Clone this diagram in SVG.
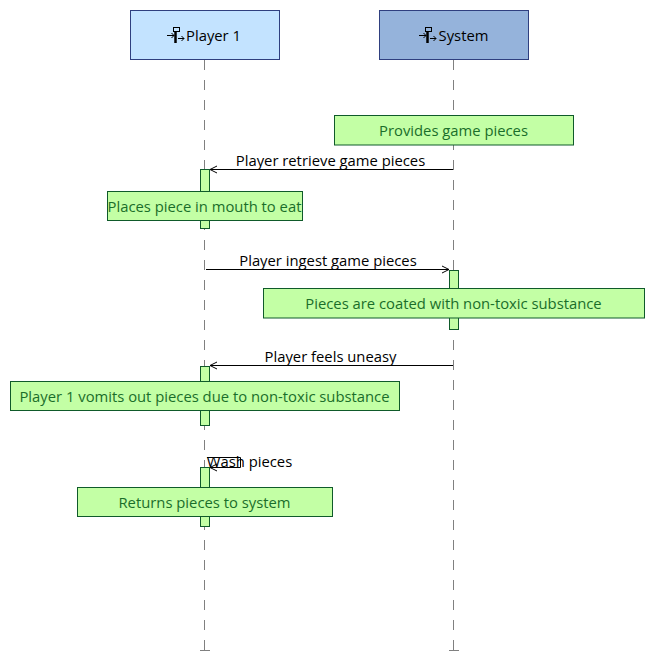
<svg xmlns="http://www.w3.org/2000/svg" width="655" height="668" viewBox="0 0 655 668">
<style>
text{font-family:"Open Sans","Noto Sans","Liberation Sans",sans-serif;font-size:14.8px;text-anchor:middle}
.life{stroke:#808080;stroke-width:1;stroke-dasharray:10 10;fill:none}
.foot{stroke:#808080;stroke-width:1;fill:none}
.head{stroke:#2f3f7f;stroke-width:1}
.act,.note{fill:#c3ffa5;stroke:#0f5a2a;stroke-width:1}
.note-t{fill:#1a6e2a}
.msg{stroke:#000;stroke-width:1;fill:none}
.ic{stroke:#000;fill:none;stroke-width:1}
</style>
<defs>
<marker id="open" markerUnits="userSpaceOnUse" markerWidth="10" markerHeight="10" refX="8" refY="5" orient="auto"><path d="M1 1.5L8 5L1 8.5" fill="none" stroke="#000" stroke-width="1"/></marker>
<g id="icon"><rect class="ic" x="6.5" y="0.5" width="6" height="4"/><path class="ic" d="M0 8.5H7M4.5 6L7 8.500L4.5 11M11 11.5H17M14.5 9L17 11.5L14.5 14"/><path d="M8.5 4.5V16" stroke="#000" stroke-width="2.5" fill="none"/></g>
</defs>
<g id="player1">
<line class="life" x1="204.500" y1="60" x2="204.500" y2="650"/><line class="foot" x1="200" y1="650.5" x2="210" y2="650.5"/>
<rect class="head" x="130.5" y="10.5" width="149" height="49" fill="#c3e3ff"/>
<use href="#icon" x="167" y="27"/>
<text x="213.500" y="41">Player 1</text>
</g>
<g id="system">
<line class="life" x1="453.500" y1="60" x2="453.500" y2="650"/><line class="foot" x1="449" y1="650.5" x2="459" y2="650.5"/>
<rect class="head" x="379.5" y="10.5" width="149" height="49" fill="#95b3db"/>
<use href="#icon" x="419" y="27"/>
<text x="463.500" y="41">System</text>
</g>
<g id="activations">
<rect class="act" x="200.5" y="169.5" width="9" height="59"/>
<rect class="act" x="449.5" y="270.5" width="9" height="59"/>
<rect class="act" x="200.5" y="366.5" width="9" height="59"/>
<rect class="act" x="200.5" y="467.5" width="9" height="59"/>
</g>
<g id="connectors">
<path class="msg" d="M453 169.5H210" marker-end="url(#open)"/>
<text x="330.500" y="166">Player retrieve game pieces</text>
<path class="msg" d="M206 269.5H449" marker-end="url(#open)"/>
<text x="328" y="266">Player ingest game pieces</text>
<path class="msg" d="M453 365.5H210" marker-end="url(#open)"/>
<text x="330.500" y="362">Player feels uneasy</text>
<path class="msg" d="M207 457.5H240.5V467.5H210" marker-end="url(#open)"/>
<text x="249.500" y="467">Wash pieces</text>
</g>
<g id="note1"><rect class="note" x="334.5" y="115.5" width="239" height="29.5"/><text class="note-t" x="453.500" y="135.500">Provides game pieces</text></g>
<g id="note2"><rect class="note" x="107.5" y="191.500" width="195" height="29"/><text class="note-t" x="204.500" y="211.500">Places piece in mouth to eat</text></g>
<g id="note3"><rect class="note" x="263.5" y="288.5" width="381" height="29.500"/><text class="note-t" x="453.500" y="308.500">Pieces are coated with non-toxic substance</text></g>
<g id="note4"><rect class="note" x="10.500" y="381.5" width="389" height="29"/><text class="note-t" x="204.500" y="401.500">Player 1 vomits out pieces due to non-toxic substance</text></g>
<g id="note5"><rect class="note" x="77.500" y="487.5" width="255" height="29"/><text class="note-t" x="204.500" y="507.500">Returns pieces to system</text></g>
</svg>
